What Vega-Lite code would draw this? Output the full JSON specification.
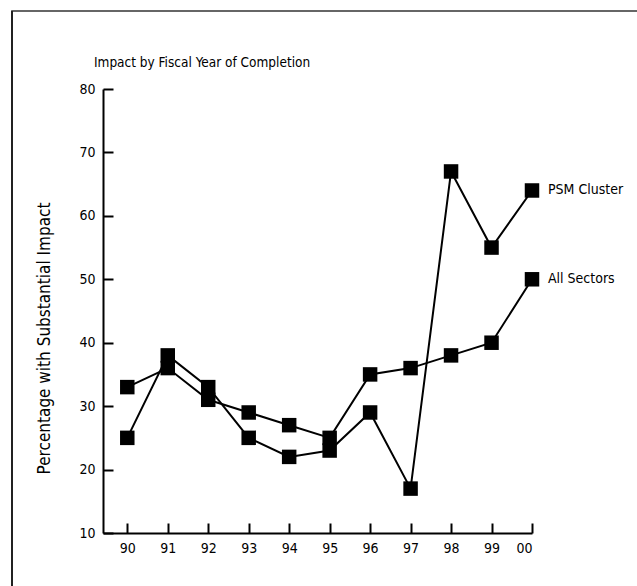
{
  "$schema": "https://vega.github.io/schema/vega-lite/v6.json",
  "width": 429,
  "height": 444,
  "autosize": {"type": "none"},
  "padding": {"left": 103, "top": 89, "right": 105, "bottom": 53},
  "background": "white",
  "config": {
    "font": "Liberation Sans Narrow, DejaVu Sans Condensed, sans-serif",
    "view": {"stroke": null},
    "axis": {
      "grid": false,
      "domainColor": "black",
      "domainWidth": 2,
      "tickColor": "black",
      "tickWidth": 2,
      "tickSize": -10,
      "labelColor": "black",
      "labelFontSize": 14,
      "labelFont": "Liberation Sans Narrow, DejaVu Sans Condensed, sans-serif",
      "titleFont": "Liberation Sans Narrow, DejaVu Sans Condensed, sans-serif",
      "titleColor": "black",
      "titleFontWeight": "normal"
    }
  },
  "title": {
    "text": "Impact by Fiscal Year of Completion",
    "anchor": "start",
    "frame": "group",
    "dx": -9,
    "offset": -71,
    "baseline": "alphabetic",
    "fontSize": 13.5,
    "fontWeight": "normal",
    "color": "black",
    "font": "Liberation Sans Narrow, DejaVu Sans Condensed, sans-serif"
  },
  "data": {
    "values": [
      {"year": 1990, "series": "PSM Cluster", "pct": 25},
      {"year": 1991, "series": "PSM Cluster", "pct": 38},
      {"year": 1992, "series": "PSM Cluster", "pct": 33},
      {"year": 1993, "series": "PSM Cluster", "pct": 25},
      {"year": 1994, "series": "PSM Cluster", "pct": 22},
      {"year": 1995, "series": "PSM Cluster", "pct": 23},
      {"year": 1996, "series": "PSM Cluster", "pct": 29},
      {"year": 1997, "series": "PSM Cluster", "pct": 17},
      {"year": 1998, "series": "PSM Cluster", "pct": 67},
      {"year": 1999, "series": "PSM Cluster", "pct": 55},
      {"year": 2000, "series": "PSM Cluster", "pct": 64},
      {"year": 1990, "series": "All Sectors", "pct": 33},
      {"year": 1991, "series": "All Sectors", "pct": 36},
      {"year": 1992, "series": "All Sectors", "pct": 31},
      {"year": 1993, "series": "All Sectors", "pct": 29},
      {"year": 1994, "series": "All Sectors", "pct": 27},
      {"year": 1995, "series": "All Sectors", "pct": 25},
      {"year": 1996, "series": "All Sectors", "pct": 35},
      {"year": 1997, "series": "All Sectors", "pct": 36},
      {"year": 1998, "series": "All Sectors", "pct": 38},
      {"year": 1999, "series": "All Sectors", "pct": 40},
      {"year": 2000, "series": "All Sectors", "pct": 50}
    ]
  },
  "encoding": {
    "x": {
      "field": "year",
      "type": "quantitative",
      "scale": {"domain": [1989.4, 2000], "nice": false, "zero": false},
      "axis": {
        "title": null,
        "values": [1990, 1991, 1992, 1993, 1994, 1995, 1996, 1997, 1998, 1999, 2000],
        "format": "d",
        "labelExpr": "substring(datum.label, 2)",
        "labelPadding": 18,
        "labelBaseline": "top"
      }
    },
    "y": {
      "field": "pct",
      "type": "quantitative",
      "scale": {"domain": [10, 80], "nice": false, "zero": false},
      "axis": {
        "title": "Percentage with Substantial Impact",
        "values": [10, 20, 30, 40, 50, 60, 70, 80],
        "labelPadding": 18,
        "titleFontSize": 17,
        "titleX": -50,
        "titleY": 249,
        "titleAngle": -90,
        "titleAlign": "center",
        "titleBaseline": "bottom"
      }
    }
  },
  "layer": [
    {
      "mark": {"type": "rule", "color": "#666666", "strokeWidth": 2, "clip": false},
      "encoding": {
        "x": {"datum": 1987.15, "type": "quantitative"},
        "x2": {"datum": 2003},
        "y": {"datum": 92.3, "type": "quantitative"}
      }
    },
    {
      "mark": {"type": "rule", "color": "#222222", "strokeWidth": 1.5, "clip": false},
      "encoding": {
        "x": {"datum": 1987.15, "type": "quantitative"},
        "y": {"datum": 92.3, "type": "quantitative"},
        "y2": {"datum": 0}
      }
    },
    {
      "mark": {"type": "line", "color": "black", "strokeWidth": 2},
      "encoding": {"detail": {"field": "series"}}
    },
    {
      "mark": {"type": "point", "shape": "square", "filled": true, "color": "black", "opacity": 1, "size": 210}
    },
    {
      "transform": [{"filter": "datum.year == 2000"}],
      "mark": {"type": "text", "align": "left", "baseline": "middle", "dx": 16, "fontSize": 14, "color": "black", "font": "Liberation Sans Narrow, DejaVu Sans Condensed, sans-serif"},
      "encoding": {"text": {"field": "series"}}
    }
  ]
}
